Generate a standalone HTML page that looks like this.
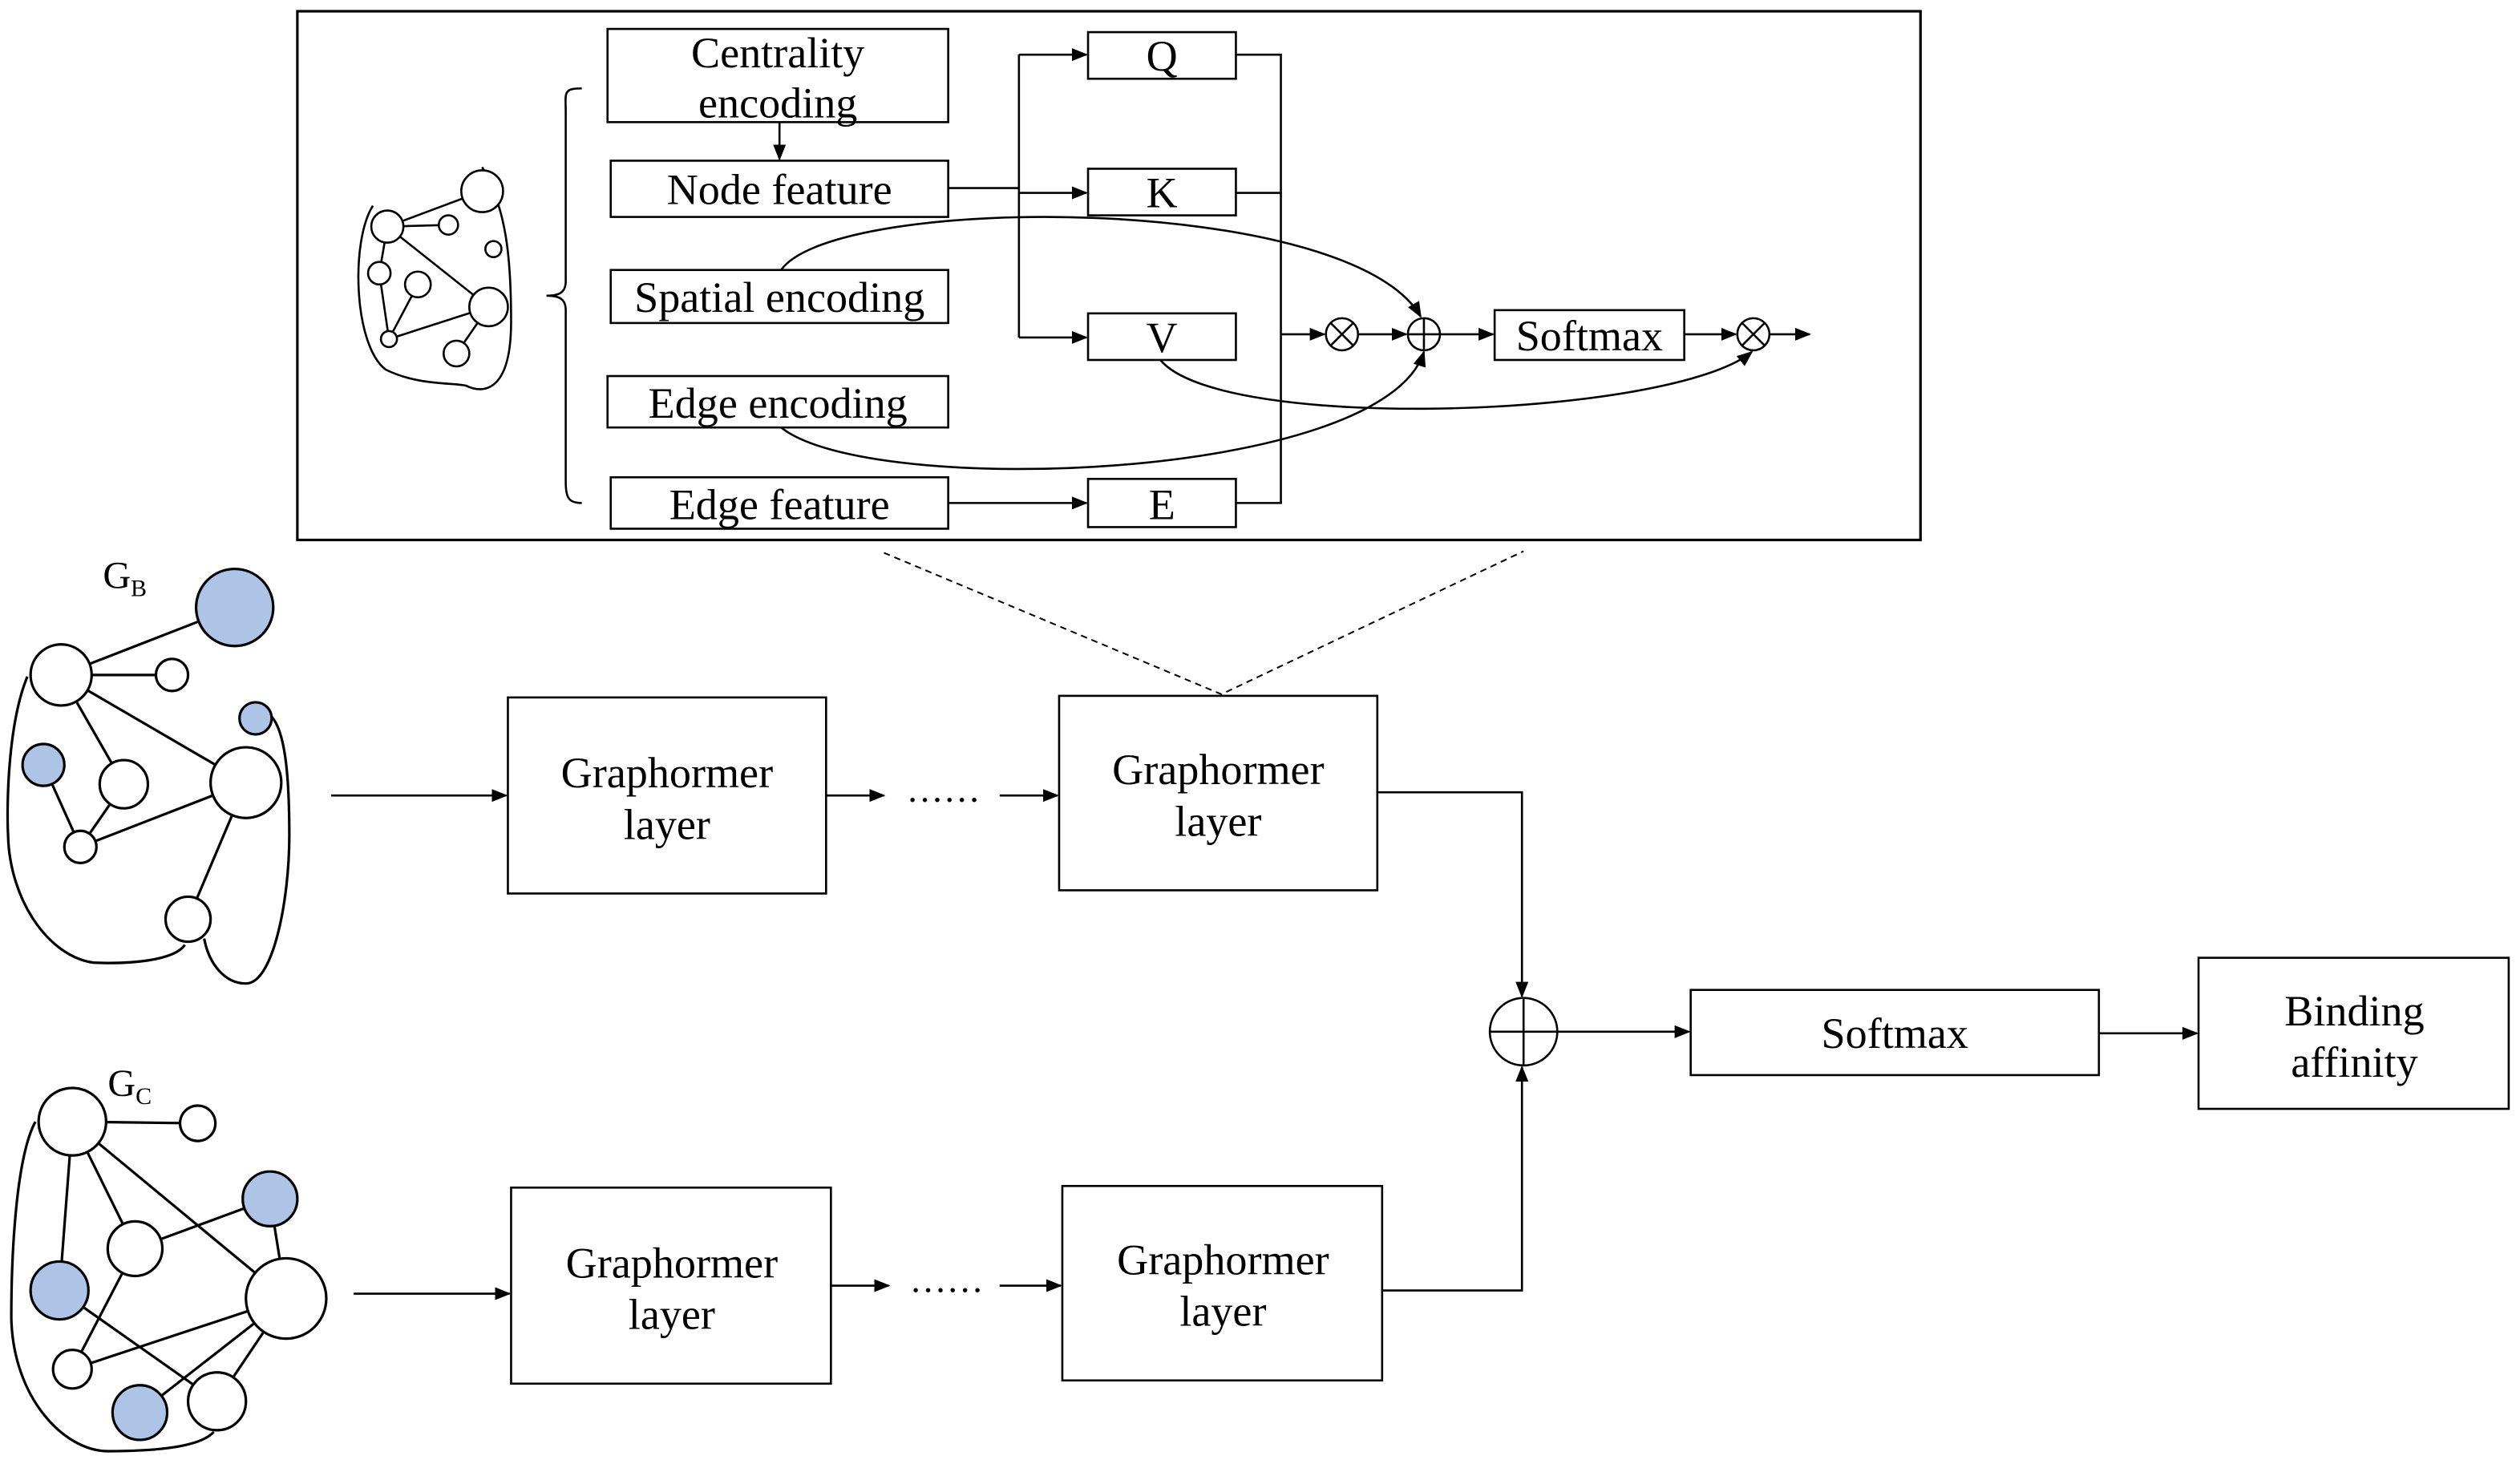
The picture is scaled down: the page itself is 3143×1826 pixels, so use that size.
<!DOCTYPE html>
<html><head><meta charset="utf-8"><style>
html,body{margin:0;padding:0;background:#fff;}
svg{display:block;}
text{font-family:"Liberation Serif",serif;fill:#000;}
</style></head><body>
<svg width="3143" height="1826" viewBox="0 0 1568 911" xmlns="http://www.w3.org/2000/svg">
<defs>
<marker id="a" markerWidth="10" markerHeight="8" refX="9" refY="4" orient="auto" markerUnits="userSpaceOnUse">
<path d="M0,0 L10,4 L0,8 z" fill="#000"/></marker>
</defs>
<g fill="none" stroke="#000" stroke-width="1.3">
<rect x="185" y="7" width="1010" height="329" stroke-width="1.6"/>
<rect x="378" y="18" width="212" height="58"/>
<rect x="380" y="100" width="210" height="35"/>
<rect x="380" y="168" width="210" height="33"/>
<rect x="378" y="234" width="212" height="32"/>
<rect x="380" y="297" width="210" height="32"/>
<rect x="677" y="20" width="92" height="29"/>
<rect x="677" y="105" width="92" height="29"/>
<rect x="677" y="195" width="92" height="29"/>
<rect x="677" y="298" width="92" height="30"/>
<rect x="930" y="193" width="118" height="31"/>
<line x1="485" y1="76" x2="485" y2="99" marker-end="url(#a)"/>
<path d="M590,117 H634"/>
<path d="M634,34 V210"/>
<line x1="634" y1="34" x2="676" y2="34" marker-end="url(#a)"/>
<line x1="634" y1="120" x2="676" y2="120" marker-end="url(#a)"/>
<line x1="634" y1="210" x2="676" y2="210" marker-end="url(#a)"/>
<line x1="590" y1="313" x2="676" y2="313" marker-end="url(#a)"/>
<path d="M769,34 H797 V313 H769 M769,120 H797"/>
<line x1="797" y1="208" x2="824" y2="208" marker-end="url(#a)"/>
<circle cx="835" cy="208" r="10"/>
<path d="M828,201 L842,215 M842,201 L828,215"/>
<line x1="845" y1="208" x2="875" y2="208" marker-end="url(#a)"/>
<circle cx="886" cy="208" r="10"/>
<path d="M876,208 H896 M886,198 V218"/>
<line x1="896" y1="208" x2="929" y2="208" marker-end="url(#a)"/>
<line x1="1048" y1="208" x2="1080" y2="208" marker-end="url(#a)"/>
<circle cx="1091" cy="208" r="10"/>
<path d="M1084,201 L1098,215 M1098,201 L1084,215"/>
<line x1="1101" y1="208" x2="1126" y2="208" marker-end="url(#a)"/>
<path d="M486,168 C520,120 840,120 884,197" marker-end="url(#a)"/>
<path d="M486,266 C540,310 860,300 886,219" marker-end="url(#a)"/>
<path d="M722,224 C760,270 1040,260 1090,219" marker-end="url(#a)"/>
<path d="M362,55 C350,55 352,58 352,70 V175 C352,182 348,184 340,184 C348,184 352,186 352,193 V300 C352,310 354,313 362,313"/>
<path d="M232,128 C218,150 220,215 240,230 C260,240 282,238 290,240 C300,245 318,245 318,200 C318,160 315,130 300,104"/>
<path d="M241,141 L300,119 M241,141 L279,140 M241,141 L304,191 M241,141 L236,170 M236,170 L242,211 M242,211 L304,191 M260,177 L242,211 M284,220 L304,191"/>
<g fill="#fff">
<circle cx="300" cy="119" r="13"/><circle cx="241" cy="141" r="10"/><circle cx="279" cy="140" r="6"/>
<circle cx="307" cy="155" r="5"/><circle cx="236" cy="170" r="7"/><circle cx="260" cy="177" r="8"/>
<circle cx="304" cy="191" r="12"/><circle cx="242" cy="211" r="5"/><circle cx="284" cy="220" r="8"/>
</g>
<path d="M550,344 L760,432 L948,343" stroke-dasharray="4,3" stroke-width="1"/>
<rect x="316" y="434" width="198" height="122"/>
<rect x="659" y="433" width="198" height="121"/>
<rect x="318" y="739" width="199" height="122"/>
<rect x="661" y="738" width="199" height="121"/>
<line x1="206" y1="495" x2="315" y2="495" marker-end="url(#a)"/>
<line x1="514" y1="495" x2="550" y2="495" marker-end="url(#a)"/>
<line x1="622" y1="495" x2="658" y2="495" marker-end="url(#a)"/>
<line x1="220" y1="805" x2="317" y2="805" marker-end="url(#a)"/>
<line x1="517" y1="800" x2="553" y2="800" marker-end="url(#a)"/>
<line x1="622" y1="800" x2="660" y2="800" marker-end="url(#a)"/>
<path d="M857,493 H947 V620" marker-end="url(#a)"/>
<path d="M860,803 H947 V664" marker-end="url(#a)"/>
<circle cx="948" cy="642" r="21"/>
<path d="M927,642 H969 M948,621 V663"/>
<line x1="969" y1="642" x2="1051" y2="642" marker-end="url(#a)"/>
<rect x="1052" y="616" width="254" height="53"/>
<line x1="1306" y1="643" x2="1367" y2="643" marker-end="url(#a)"/>
<rect x="1368" y="596" width="193" height="94"/>
</g>
<g fill="none" stroke="#000" stroke-width="1.6">
<!-- GB -->
<path d="M17,421 C5,450 4,500 5,520 C6,560 30,595 58,599 C80,600 108,598 115,588"/>
<path d="M127,584 C130,600 140,612 153,612 C170,612 180,560 180,520 C180,480 177,455 169,446"/>
<path d="M38,420 L146,378 M38,420 L107,420 M38,420 L77,488 M38,420 L153,487 M27,476 L50,527 M77,488 L50,527 M50,527 L153,487 M153,487 L117,572"/>
<g fill="#fff">
<circle cx="146" cy="378" r="24" fill="#aec4e6"/><circle cx="38" cy="420" r="19"/><circle cx="107" cy="420" r="10"/>
<circle cx="159" cy="447" r="10" fill="#aec4e6"/><circle cx="27" cy="476" r="13" fill="#aec4e6"/><circle cx="77" cy="488" r="15"/>
<circle cx="153" cy="487" r="22"/><circle cx="50" cy="527" r="10"/><circle cx="117" cy="572" r="14"/>
</g>
<!-- GC -->
<path d="M22,698 C10,720 7,780 7,820 C8,870 40,903 67,903 C100,903 125,900 133,891"/>
<path d="M45,698 L123,699 M45,698 L37,803 M45,698 L84,777 M45,698 L178,808 M84,777 L168,746 M168,746 L178,808 M84,777 L45,852 M45,852 L178,808 M37,803 L135,872 M178,808 L87,879 M178,808 L135,872"/>
<g fill="#fff">
<circle cx="45" cy="698" r="21"/><circle cx="123" cy="699" r="11"/><circle cx="168" cy="746" r="17" fill="#aec4e6"/>
<circle cx="84" cy="777" r="17"/><circle cx="37" cy="803" r="18" fill="#aec4e6"/><circle cx="178" cy="808" r="25"/>
<circle cx="45" cy="852" r="12"/><circle cx="87" cy="879" r="17" fill="#aec4e6"/><circle cx="135" cy="872" r="18"/>
</g>
</g>
<g font-size="27" text-anchor="middle">
<text x="484" y="42">Centrality</text><text x="484" y="73">encoding</text>
<text x="485" y="127">Node feature</text>
<text x="485" y="194">Spatial encoding</text>
<text x="484" y="260">Edge encoding</text>
<text x="485" y="323">Edge feature</text>
<text x="723" y="44">Q</text><text x="723" y="129">K</text><text x="723" y="219">V</text><text x="723" y="323">E</text>
<text x="989" y="218">Softmax</text>
<text x="415" y="490">Graphormer</text><text x="415" y="522">layer</text>
<text x="758" y="488">Graphormer</text><text x="758" y="520">layer</text>
<text x="418" y="795">Graphormer</text><text x="418" y="827">layer</text>
<text x="761" y="793">Graphormer</text><text x="761" y="825">layer</text>
<text x="587" y="499" font-size="23">……</text>
<text x="589" y="804" font-size="23">……</text>
<text x="1179" y="652">Softmax</text>
<text x="1465" y="638">Binding</text><text x="1465" y="670">affinity</text>
</g>
<text x="64" y="366" font-size="24">G<tspan font-size="15" dy="5">B</tspan></text>
<text x="67" y="682" font-size="24">G<tspan font-size="15" dy="5">C</tspan></text>
</svg>
</body></html>
